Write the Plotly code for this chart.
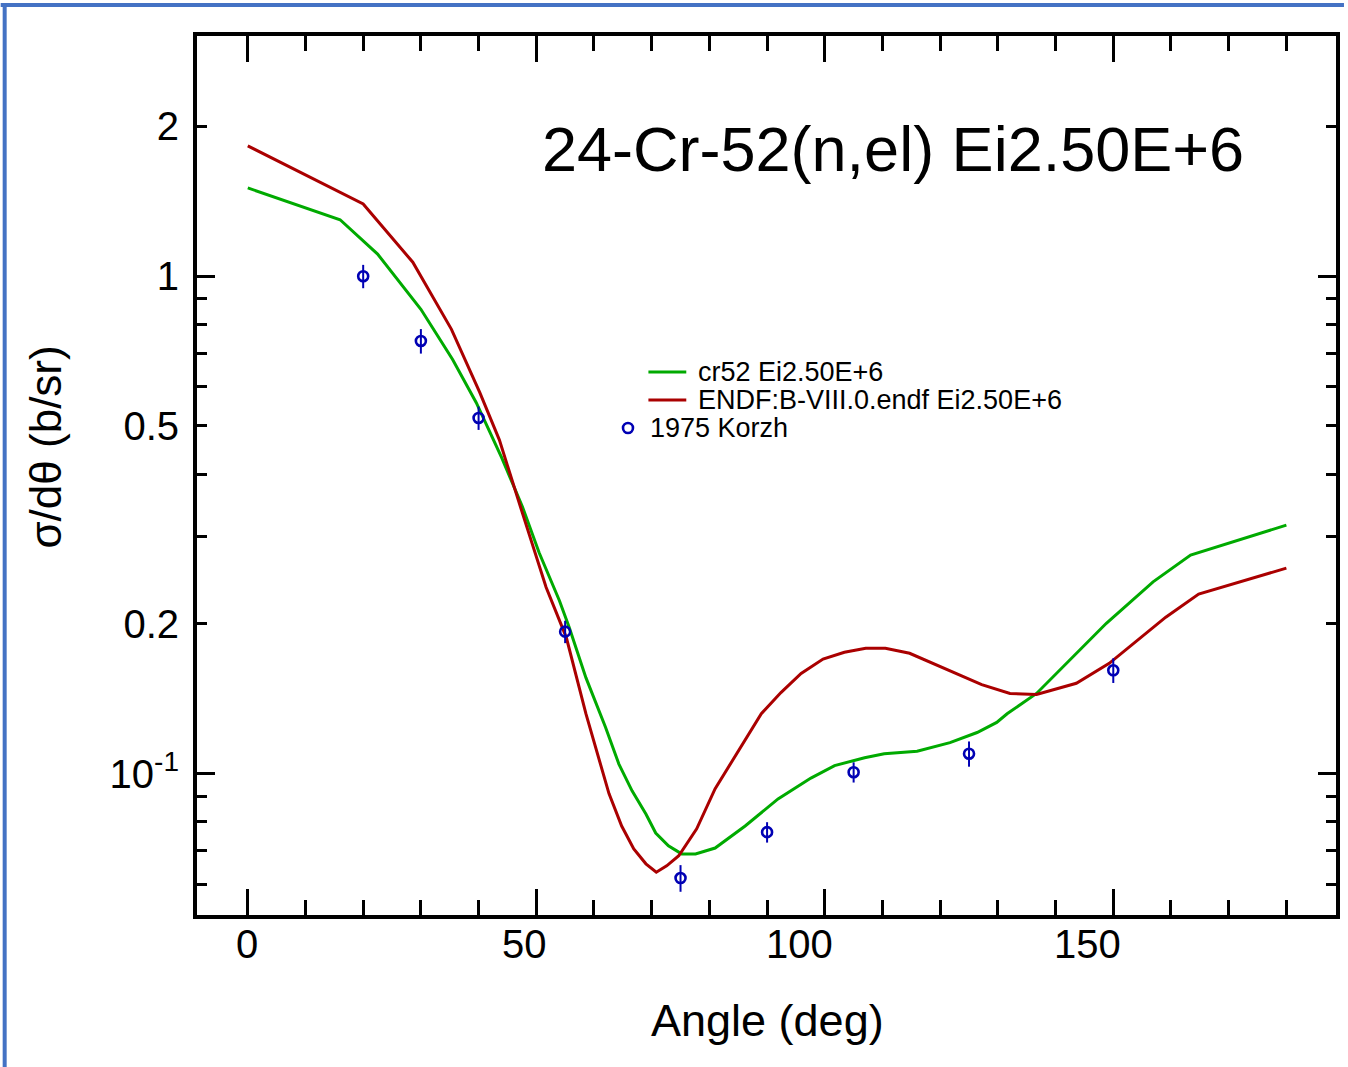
import math
import plotly.graph_objects as go

# 24-Cr-52 (n,el) angular distributions at Ei = 2.50E+6 eV
angle_cr52 = [0, 16, 22.5, 30, 35.5, 39.6, 44, 47.6, 50.5, 54, 55.7, 58.6, 62, 64.3,
              66.6, 69, 70.7, 72.9, 75.2, 77.6, 81, 86.2, 91.9, 97.6, 101.7, 106.9,
              110.3, 116, 121.7, 126.4, 129.8, 131.6, 136.7, 148.8, 156.9, 163.4, 180]
xs_cr52 = [1.505, 1.299, 1.108, 0.858, 0.680, 0.557, 0.432, 0.344, 0.278, 0.223, 0.197,
           0.156, 0.124, 0.1047, 0.0924, 0.0830, 0.0760, 0.0716, 0.0690, 0.0690, 0.0709,
           0.0785, 0.0890, 0.0980, 0.1038, 0.1077, 0.1097, 0.1110, 0.1155, 0.1210,
           0.1268, 0.1320, 0.1450, 0.2006, 0.2430, 0.2750, 0.3160]

angle_endf = [0, 20, 28.6, 35.3, 40.2, 43.6, 47.6, 51.7, 55.2, 58.6, 62.6, 64.8, 66.9,
              69, 70.8, 72.6, 74.7, 77.8, 81, 85, 89, 92.4, 95.9, 99.7, 103.4, 107.1,
              110.5, 114.7, 118.3, 122.9, 127.2, 132.1, 136.7, 143.6, 149.3, 159.1, 164.8, 180]
xs_endf = [1.828, 1.397, 1.067, 0.782, 0.584, 0.469, 0.334, 0.237, 0.188, 0.132, 0.0912,
           0.0785, 0.0706, 0.0659, 0.0634, 0.0653, 0.0684, 0.0775, 0.0933, 0.111, 0.132,
           0.1456, 0.159, 0.170, 0.1754, 0.1787, 0.1787, 0.1746, 0.1675, 0.159, 0.151,
           0.145, 0.1443, 0.152, 0.1667, 0.2064, 0.2296, 0.259]

angle_korzh = [20, 30, 40, 55, 75, 90, 105, 125, 150]
xs_korzh = [1.0, 0.741, 0.519, 0.193, 0.0617, 0.0763, 0.1007, 0.1097, 0.1614]
err_korzh = [0.054, 0.042, 0.028, 0.010, 0.0038, 0.0036, 0.0047, 0.0064, 0.0092]

x_tickvals = [0, 50, 100, 150]
x_ticktext = ["0", "50", "100", "150"]
y_tickvals = [0.1, 0.2, 0.5, 1, 2]
y_ticktext = ["10<sup>-1</sup>", "0.2", "0.5", "1", "2"]
y_minor_vals = [0.06, 0.07, 0.08, 0.09, 0.3, 0.4, 0.6, 0.7, 0.8, 0.9]
y_decade_vals = [0.1, 1]

legend_names = ["cr52 Ei2.50E+6", "ENDF:B-VIII.0.endf Ei2.50E+6", "1975 Korzh"]
title_text = "24-Cr-52(n,el) Ei2.50E+6"

GREEN = "#00aa00"
RED = "#aa0000"
BLUE = "#0000b4"
FRAME = "#4472c4"
FONT = "Liberation Sans, Arial, sans-serif"

W, H = 1348, 1067
L, R, T, B = 197, 8, 36, 152
PW, PH = W - L - R, H - T - B

# horizontal nudge of each bottom tick label (pixels)
X_LABEL_SHIFT = [-1, -12, -25, -26]


def px(x):
    return (x - L) / PW


def py(y):
    return (H - B - y) / PH


fig = go.Figure()
fig.add_trace(go.Scatter(x=angle_cr52, y=xs_cr52, mode="lines", name=legend_names[0],
                         line=dict(color=GREEN, width=3), showlegend=False))
fig.add_trace(go.Scatter(x=angle_endf, y=xs_endf, mode="lines", name=legend_names[1],
                         line=dict(color=RED, width=3), showlegend=False))
fig.add_trace(go.Scatter(x=angle_korzh, y=xs_korzh, mode="markers", name=legend_names[2],
                         yaxis="y2",
                         marker=dict(symbol="circle-open", size=10, color=BLUE,
                                     line=dict(width=2.6, color=BLUE)),
                         error_y=dict(type="data", array=err_korzh, color=BLUE,
                                      thickness=2, width=0),
                         showlegend=False))

yrange = [math.log10(0.052), math.log10(3.04)]

fig.update_layout(
    width=W, height=H,
    margin=dict(l=L, r=R, t=T, b=B),
    paper_bgcolor="white", plot_bgcolor="white",
    font=dict(family=FONT, color="black"),
    showlegend=False,
    xaxis=dict(range=[-8.8, 188.6], tickvals=x_tickvals, ticks="inside", ticklen=26,
               tickwidth=3, tickcolor="black", showline=True, linewidth=4,
               linecolor="black", mirror="ticks", showgrid=False, zeroline=False,
               showticklabels=False,
               minor=dict(dtick=10, tick0=0, ticks="inside", ticklen=15, tickwidth=3,
                          tickcolor="black", showgrid=False)),
    yaxis=dict(type="log", range=yrange, tickvals=y_tickvals, ticktext=y_ticktext,
               ticks="inside", ticklen=10, tickwidth=3, tickcolor="black",
               showline=True, linewidth=4, linecolor="black", mirror="ticks",
               showgrid=False, zeroline=False, tickfont=dict(size=40),
               ticklabelstandoff=6,
               minor=dict(tickvals=y_minor_vals, ticks="inside", ticklen=10,
                          tickwidth=3, tickcolor="black", showgrid=False)),
    yaxis2=dict(type="log", range=yrange, overlaying="y", side="left", anchor="x",
                tickvals=y_decade_vals, ticks="inside", ticklen=18, tickwidth=3,
                tickcolor="black", mirror="ticks", showline=False, showgrid=False,
                zeroline=False, showticklabels=False),
)

annotations = [
    dict(text=title_text, x=px(541), y=py(149), xanchor="left", yanchor="middle",
         font=dict(size=63)),
    dict(text="Angle (deg)", x=px(770), y=py(1020), xanchor="center", yanchor="middle",
         font=dict(size=45)),
    dict(text="σ/dθ (b/sr)", x=px(45), y=py(447), xanchor="center", yanchor="middle",
         textangle=-90, font=dict(size=44)),
    dict(text=legend_names[0], x=px(698), y=py(372), xanchor="left", yanchor="middle",
         font=dict(size=27)),
    dict(text=legend_names[1], x=px(698), y=py(400), xanchor="left", yanchor="middle",
         font=dict(size=27)),
    dict(text=legend_names[2], x=px(650), y=py(428), xanchor="left", yanchor="middle",
         font=dict(size=27)),
]
for a in annotations:
    a.update(xref="paper", yref="paper", showarrow=False)

# bottom tick labels, placed at the tick values on the x axis
for val, txt, shift in zip(x_tickvals, x_ticktext, X_LABEL_SHIFT):
    annotations.append(dict(text=txt, x=val, xref="x", y=py(944), yref="paper",
                            xanchor="center", yanchor="middle", xshift=shift,
                            showarrow=False, font=dict(size=40)))
fig.update_layout(annotations=annotations)

shapes = [
    # legend keys
    dict(type="line", x0=px(650), x1=px(688), y0=py(372), y1=py(372),
         line=dict(color=GREEN, width=3)),
    dict(type="line", x0=px(650), x1=px(688), y0=py(400), y1=py(400),
         line=dict(color=RED, width=3)),
    dict(type="circle", x0=px(624.5), x1=px(634.5), y0=py(433), y1=py(423),
         line=dict(color=BLUE, width=2.6)),
    # picture frame
    dict(type="line", x0=px(0), x1=px(W), y0=py(5), y1=py(5),
         line=dict(color=FRAME, width=4)),
    dict(type="line", x0=px(4), x1=px(4), y0=py(3), y1=py(H),
         line=dict(color=FRAME, width=4)),
]
for s in shapes:
    s.update(xref="paper", yref="paper")
fig.update_layout(shapes=shapes)

fig.write_html("out.html")
